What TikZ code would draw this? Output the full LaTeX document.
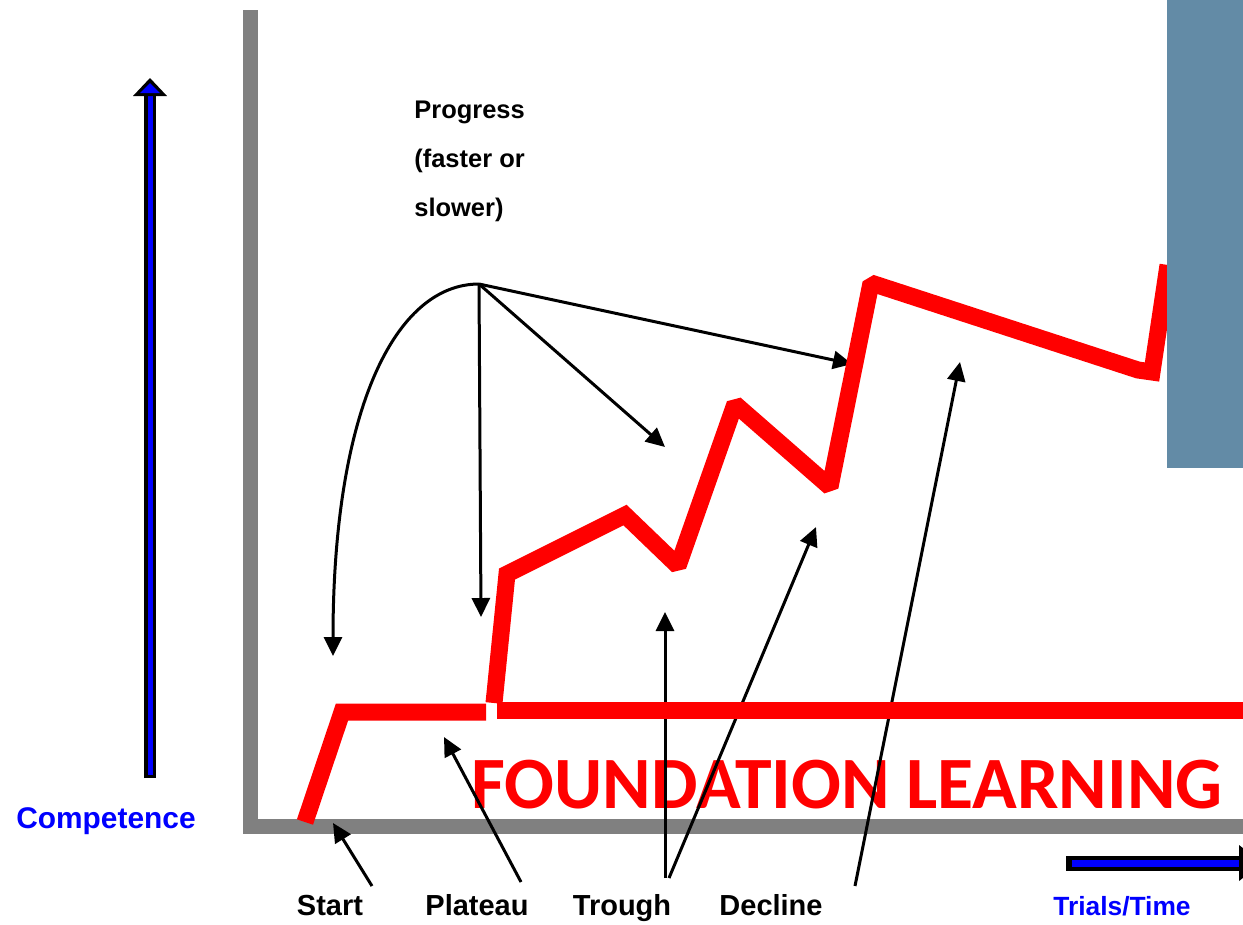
\documentclass[tikz,border=0pt]{standalone}
\usepackage{fontspec}
\setmainfont{Liberation Sans}
\newfontfamily\bannerfont{Carlito}
\usetikzlibrary{arrows.meta}
\definecolor{axisgray}{RGB}{128,128,128}
\definecolor{panelblue}{RGB}{99,139,166}

\tikzset{
  pointer/.style={-{Triangle[length=0.38cm,width=0.36cm]}, line width=0.06cm},
  redline/.style={red, line width=0.34cm, line join=miter, miter limit=1.5},
  stagetext/.style={anchor=base, inner sep=0pt, font=\fontsize{16.5}{20}\selectfont\bfseries},
}

\begin{document}
\begin{tikzpicture}[x=0.02cm,y=-0.02cm]
  \clip (0,0) rectangle (1243,924);
  \fill[white] (0,0) rectangle (1243,924);

  \draw[axisgray, line width=0.3cm] (250,10) -- (250,826) -- (1250,826);

  % competence and time axes
  \draw[black, line width=0.24cm] (150,778) -- (150,94);
  \draw[blue, line width=0.1cm] (150,775) -- (150,94);
  \fill[black] (133,96) -- (150,78) -- (167,96) -- cycle;
  \fill[blue] (140,93) -- (150,83) -- (160,93) -- cycle;
  \draw[black, line width=0.3cm] (1066,863) -- (1245,863);
  \draw[blue, line width=0.14cm] (1072,863) -- (1245,863);
  \fill[black] (1239,845) -- (1262,863) -- (1239,881) -- cycle;

  \node[stagetext, blue, font=\fontsize{17}{20}\selectfont\bfseries] (competence) at (106,828) {Competence};
  \node[stagetext, blue, font=\fontsize{15}{18}\selectfont\bfseries] (trials) at (1122,915) {Trials/Time};

  \node[anchor=north west, inner sep=0pt, align=left, font=\fontsize{14.5}{27.8}\selectfont\bfseries] (progress) at (414,101) {Progress\\(faster or\\slower)};

  \node[stagetext] (start) at (330,915) {Start};
  \node[stagetext] (plateau) at (477,915) {Plateau};
  \node[stagetext] (trough) at (622,915) {Trough};
  \node[stagetext] (decline) at (771,915) {Decline};

  \node[anchor=base, inner sep=0pt, red, font=\bannerfont\fontsize{42}{50}\selectfont\bfseries] (banner) at (847,808) {FOUNDATION LEARNING};

  \coordinate (hub) at (479,284);
  \coordinate (foundtip) at (333,656);
  \coordinate (plateautip) at (481,617);
  \coordinate (midtip) at (665,447);
  \coordinate (peaktip) at (852,364);

  \draw[pointer] (hub) .. controls (395,284) and (333,410) .. (foundtip);
  \draw[pointer] (hub) -- (plateautip);
  \draw[pointer] (hub) -- (midtip);
  \draw[pointer] (hub) -- (peaktip);

  \coordinate (starttail) at (372,886);
  \coordinate (starttip) at (333,823);
  \coordinate (plateautail) at (521,882);
  \coordinate (flattip) at (444,737);
  \coordinate (troughtail) at (665,878);
  \coordinate (troughtip) at (665,612);
  \coordinate (risetail) at (669,878);
  \coordinate (risetip) at (816,527);
  \coordinate (declinetail) at (855,886);
  \coordinate (declinetip) at (960,362);

  \draw[pointer] (starttail) -- (starttip);
  \draw[pointer] (plateautail) -- (flattip);
  \draw[pointer] (troughtail) -- (troughtip);
  \draw[pointer] (risetail) -- (risetip);
  \draw[pointer] (declinetail) -- (declinetip);

  \draw[redline] (305,822) -- (342,712) -- (486,712);
  \draw[redline] (497,710) -- (1250,710);
  \draw[redline] (494,703) -- (507,574) -- (625,515) -- (678,566) -- (735,404)
    -- (830,487) -- (871,283) -- (1138,370) -- (1152,372) -- (1168,265);

  \fill[panelblue] (1167,0) rectangle (1243,468);
\end{tikzpicture}
\end{document}
